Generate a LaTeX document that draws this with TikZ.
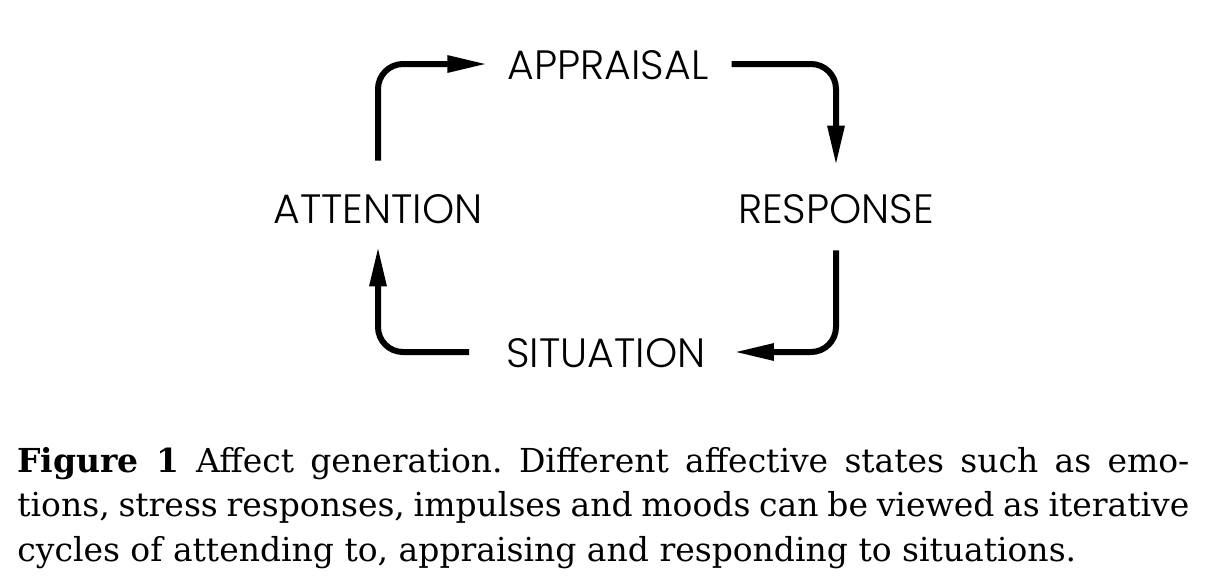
\documentclass[tikz,border=0pt]{standalone}
\usepackage{fontspec}
\setmainfont{DejaVu Serif}
\IfFontExistsTF{Poppins Light}
  {\newfontfamily\labelfont{Poppins Light}}
  {\newfontfamily\labelfont{Poppins}}
\usetikzlibrary{arrows.meta}

\tikzset{
  stage/.style={font=\labelfont\fontsize{20.5}{24}\selectfont, inner sep=0pt,
    text height=15pt, text depth=0pt},
  cyc/.style={line width=3pt, rounded corners=12.5pt,
    -{Triangle[length=20pt,width=8pt]}}
}

\begin{document}
\frenchspacing
\begin{tikzpicture}[x=0.5pt,y=-0.5pt]
            \useasboundingbox (0,0) rectangle (1216,586);

            % the four stages
            \node[stage] (app) at (608,64) {APPRAISAL};
            \node[stage] (att) at (378,208) {ATTENTION};
            \node[stage] (resp) at (836,208) {RESPONSE};
            \node[stage] (sit) at (606,352) {SITUATION};

            % the cycle
            \draw[cyc, shorten <=16pt, shorten >=10pt] (att.north) |- (app.west);
            \draw[cyc, shorten <=11.5pt, shorten >=13.5pt] (app.east) -| (resp.north);
            \draw[cyc, shorten <=13.5pt, shorten >=14pt] (resp.south) |- (sit.east);
            \draw[cyc, shorten <=18.5pt, shorten >=11.5pt] (sit.west) -| (att.south);

            % caption
            \node[anchor=north west, inner sep=0pt, text width=586pt, align=justify,
              font=\fontsize{16.5}{22.25}\selectfont] (cap) at (17,447)
              {\textbf{Figure 1}\enspace Affect generation. Different affective states such as emo-\linebreak
              tions, stress responses, impulses and moods can be viewed as iterative\linebreak
              cycles of attending to, appraising and responding to situations.};

        \end{tikzpicture}
\end{document}
